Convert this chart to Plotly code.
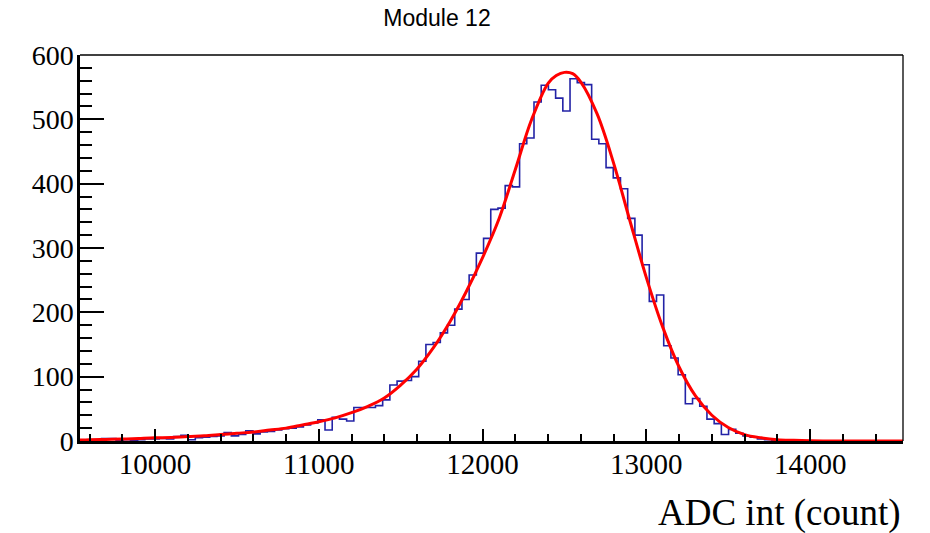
import plotly.graph_objects as go

# ---- data ----
bin_start = 9542.0
bin_width = 44.0
counts = [0, 1, 0, 4, 4, 1, 2, 1, 2, 3,
          3, 4, 3, 7, 9, 2, 5, 6, 7, 8,
          13, 8, 10, 16, 11, 14, 15, 17, 19, 20,
          22, 25, 28, 33, 17, 37, 34, 31, 52, 52,
          52, 55, 64, 87, 93, 94, 100, 124, 150, 153,
          168, 180, 205, 220, 258, 292, 315, 360, 362, 397,
          395, 462, 471, 527, 553, 546, 533, 513, 563, 557,
          554, 469, 462, 425, 409, 392, 346, 320, 274, 217,
          227, 148, 129, 103, 58, 66, 54, 34, 27, 10,
          18, 12, 8, 6, 3, 2, 1, 1, 0, 1,
          0, 0, 0, 0, 0, 0, 0, 0, 0, 0,
          0, 0, 0, 0, 0]

fit_x = [9542, 9600, 9700, 9800, 9900, 10000, 10100, 10200, 10300, 10400,
         10500, 10600, 10700, 10800, 10900, 11000, 11100, 11200, 11300, 11400,
         11500, 11600, 11700, 11800, 11900, 12000, 12100, 12200, 12300, 12400,
         12450, 12500, 12550, 12600, 12700, 12800, 12900, 13000, 13100, 13200,
         13300, 13400, 13500, 13600, 13700, 13800, 13900, 14000, 14100, 14300, 14567]
fit_y = [1.5, 2, 2.5, 3, 4, 5, 5.5, 7, 8, 10,
         12, 14, 17, 20, 25, 30, 36, 44, 54, 67,
         87, 112, 145, 185, 232, 285, 345, 422, 500, 556,
         568, 573, 571, 558, 508, 432, 342, 254, 177, 115,
         70, 40, 21, 10, 5, 2, 1, 0.3, 0.1, 0, 0]

x_range = [9542, 14567]
y_range = [0, 600]
title_text = "Module 12"
x_title = "ADC int (count)"

# ---- build step outline from bins ----
edges = [bin_start + i * bin_width for i in range(len(counts) + 1)]
hx = edges[:-1] + [edges[-1]]
hy = counts + [counts[-1]]

fig = go.Figure()
fig.add_trace(go.Scatter(x=hx, y=hy, mode="lines", line_shape="hv",
                         line=dict(color="#2323a6", width=1.6),
                         hoverinfo="skip", showlegend=False, cliponaxis=True))
fig.add_trace(go.Scatter(x=fit_x, y=fit_y, mode="lines", line_shape="spline",
                         line=dict(color="#ff0000", width=3),
                         hoverinfo="skip", showlegend=False))

serif = "Liberation Serif, Times New Roman, serif"

fig.update_layout(
    width=930, height=533,
    margin=dict(l=80, r=27, t=55, b=92),
    paper_bgcolor="white", plot_bgcolor="white",
    showlegend=False,
    title=dict(text=title_text, x=437 / 930, xanchor="center", xref="container",
               y=1 - 18 / 533, yanchor="middle", yref="container",
               font=dict(family="Liberation Sans, Arial, sans-serif", size=23, color="black")),
    xaxis=dict(range=x_range, showgrid=False, zeroline=False,
               showline=True, linecolor="black", linewidth=2.5,
               ticks="inside", tick0=10000, dtick=1000, ticklen=12, tickwidth=1.5,
               tickcolor="black", tickformat="d",
               minor=dict(ticks="inside", dtick=200, tick0=10000, ticklen=7,
                          tickwidth=1.5, tickcolor="black", showgrid=False),
               tickfont=dict(family=serif, size=29, color="black"),
               ticklabelstandoff=-5),
    yaxis=dict(range=y_range, showgrid=False, zeroline=False,
               showline=True, linecolor="black", linewidth=2.5,
               ticks="inside", tick0=0, dtick=100, ticklen=24, tickwidth=1.5,
               tickcolor="black",
               minor=dict(ticks="inside", dtick=20, ticklen=12,
                          tickwidth=1.5, tickcolor="black", showgrid=False),
               tickfont=dict(family=serif, size=28, color="black"),
               ticklabelstandoff=-2),
)

# thin top/right frame
fig.add_shape(type="line", xref="paper", yref="paper", x0=0, x1=1, y0=1, y1=1,
              line=dict(color="black", width=1.3))
fig.add_shape(type="line", xref="paper", yref="paper", x0=1, x1=1, y0=0, y1=1,
              line=dict(color="black", width=1.3))

fig.add_annotation(text=x_title, xref="paper", yref="paper", x=1, y=-72 / 386,
                   xanchor="right", yanchor="middle", showarrow=False,
                   font=dict(family=serif, size=37, color="black"))

fig.write_html("out.html")
